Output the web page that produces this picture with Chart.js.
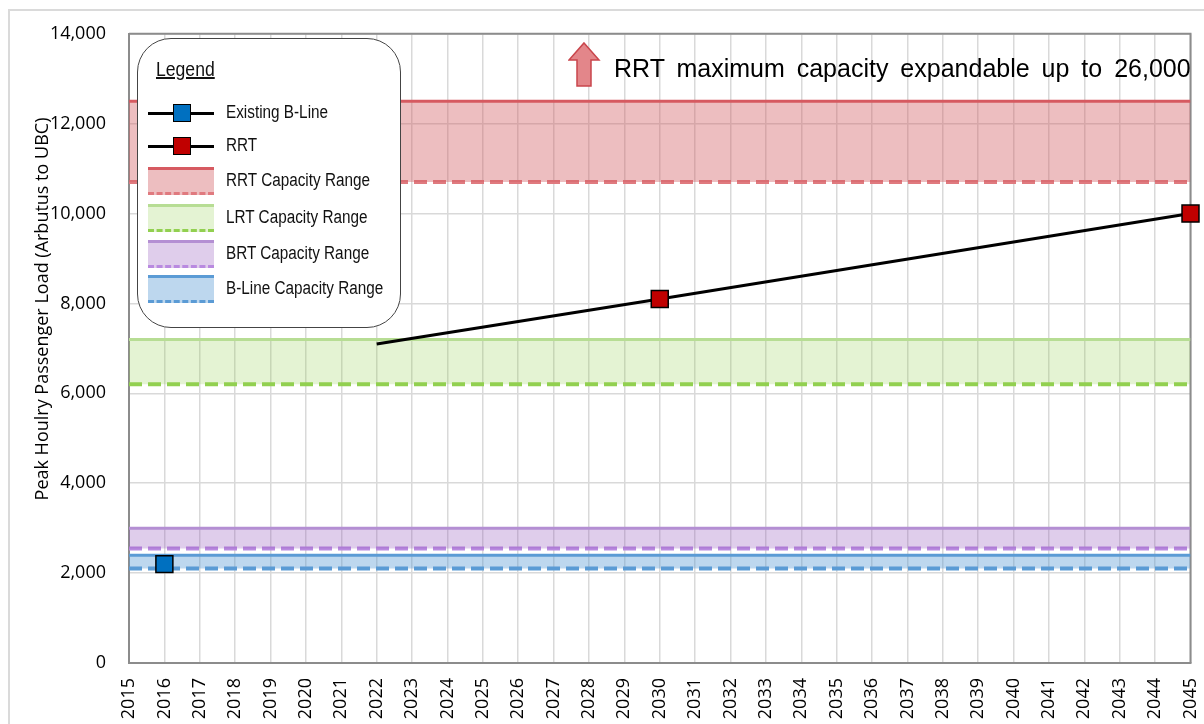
<!DOCTYPE html>
<html>
<head>
<meta charset="utf-8">
<script src="https://cdn.jsdelivr.net/npm/chart.js@4.4.1/dist/chart.umd.min.js"></script>
<style>
  body { margin: 0; background: #fff; }
  #wrap { position: relative; width: 1204px; height: 724px; overflow: hidden; }
  #frame { position: absolute; left: 8px; top: 9px; width: 1300px; height: 800px; border-left: 2px solid #dadada; border-top: 2px solid #dadada; }
  #legend { position: absolute; left: 137px; top: 38px; width: 262px; height: 288px; border: 1px solid #444; border-radius: 34px; background: #fff;
    font-family: 'Liberation Sans', Arial, sans-serif; color: #111; }
  #legend .ttl { position: absolute; left: 18px; top: 19px; font-size: 20px; text-decoration: underline; transform: scaleX(0.88); transform-origin: left center; }
  #legend .row { position: absolute; left: 10px; height: 26px; width: 250px; }
  #legend .sym { position: absolute; left: 0; top: 0; width: 66px; height: 26px; }
  #legend .txt { position: absolute; left: 78px; top: 2px; font-size: 18px; white-space: nowrap; transform: scaleX(0.85); transform-origin: left center; }
  #ytitle { position: absolute; left: 41px; top: 309px; transform: translate(-50%, -50%) rotate(-90deg); font-family: 'Open Sans', sans-serif; font-size: 18px; white-space: nowrap; color: #000; }
  #note { position: absolute; left: 614px; top: 54px; font-family: 'Liberation Sans', Arial, sans-serif; font-size: 25px; word-spacing: 5px; color: #000; white-space: nowrap; }
  #arrow { position: absolute; left: 568px; top: 41px; }
</style>
</head>
<body>
<div id="wrap">
  <div id="frame"></div>
  <canvas id="chart" width="1204" height="724"></canvas>
  <div id="ytitle">Peak Houlry Passenger Load (Arbutus to UBC)</div>
  <div id="legend"><div class="ttl">Legend</div></div>
  <svg id="arrow" width="34" height="48"><polygon points="16,2 31,19 23,19 23,45 9,45 9,19 1,19" fill="#e3868a" stroke="#c9464c" stroke-width="1.5"/></svg>
  <div id="note">RRT maximum capacity expandable up to 26,000</div>
</div>
<script>
const xMin = 2015;
const xMax = 2045;
const yMax = 14000;

const bandNames = ['RRT Capacity Range', 'LRT Capacity Range', 'BRT Capacity Range', 'B-Line Capacity Range'];
const bandHigh = [12500, 7200, 3000, 2400];
const bandLow = [10700, 6200, 2550, 2100];
const bandFill = ['rgba(210,92,97,0.4)', 'rgba(146,208,80,0.25)', 'rgba(150,90,190,0.3)', 'rgba(91,155,213,0.4)'];
const bandTop = ['#d65a61', '#b7dd94', '#b48fd3', '#5b9bd5'];
const bandDash = ['#e07a7f', '#92d050', '#b98ae0', '#5b9bd5'];

const blineYears = [2016];
const blineLoad = [2200];
const rrtYears = [2022, 2030, 2045];
const rrtLoad = [7100, 8100, 10000];
const rrtMarker = [0, 12, 12];

const seriesNames = ['Existing B-Line', 'RRT'];
const seriesColor = ['#0070c0', '#c00000'];

const datasets = [
  {
    label: seriesNames[1],
    data: rrtYears.map((x, i) => ({ x, y: rrtLoad[i] })),
    borderColor: '#000', borderWidth: 3,
    pointStyle: 'rect', pointRadius: rrtMarker,
    pointBackgroundColor: seriesColor[1], pointBorderColor: '#000', pointBorderWidth: 1.5,
    fill: false, clip: false
  },
  {
    label: seriesNames[0],
    data: blineYears.map((x, i) => ({ x, y: blineLoad[i] })),
    borderColor: '#000', borderWidth: 3, showLine: false,
    pointStyle: 'rect', pointRadius: 12,
    pointBackgroundColor: seriesColor[0], pointBorderColor: '#000', pointBorderWidth: 1.5,
    fill: false, clip: false
  }
];

bandNames.forEach((name, i) => {
  datasets.push({
    label: name,
    data: [{ x: xMin, y: bandHigh[i] }, { x: xMax, y: bandHigh[i] }],
    borderColor: bandTop[i], borderWidth: 3, pointRadius: 0,
    backgroundColor: bandFill[i], fill: '+1'
  });
  datasets.push({
    label: name + ' low',
    data: [{ x: xMin, y: bandLow[i] }, { x: xMax, y: bandLow[i] }],
    borderColor: bandDash[i], borderWidth: 4, borderDash: [13, 6], pointRadius: 0,
    fill: false
  });
});

// top and right edges of the plot box
const boxPlugin = {
  id: 'box',
  beforeDatasetsDraw(chart) {
    const { ctx, chartArea: a } = chart;
    ctx.save();
    ctx.strokeStyle = '#8c8c8c';
    ctx.lineWidth = 2;
    ctx.beginPath();
    ctx.moveTo(a.left, a.top);
    ctx.lineTo(a.right, a.top);
    ctx.lineTo(a.right, a.bottom);
    ctx.stroke();
    ctx.restore();
  }
};

Chart.defaults.font.family = "'Open Sans', sans-serif";
Chart.defaults.color = '#000';

new Chart(document.getElementById('chart'), {
  type: 'line',
  data: { datasets },
  plugins: [boxPlugin],
  options: {
    responsive: false,
    animation: false,
    layout: { padding: { top: 32, right: 5, left: 0, bottom: 0 } },
    plugins: { legend: { display: false }, tooltip: { enabled: false } },
    scales: {
      x: {
        type: 'linear', min: xMin, max: xMax,
        grid: { color: '#d9d9d9', lineWidth: 1.5, drawTicks: false },
        border: { color: '#8c8c8c', width: 2 },
        ticks: {
          stepSize: 1, autoSkip: false, minRotation: 90, maxRotation: 90, padding: 15,
          font: { size: 18 }, callback: v => String(v)
        },
        afterFit: s => { s.height = 61; s.paddingLeft = 0; s.paddingRight = 0; }
      },
      y: {
        min: 0, max: yMax,
        grid: { color: '#d9d9d9', lineWidth: 1.5, drawTicks: false },
        border: { color: '#8c8c8c', width: 2 },
        ticks: { stepSize: 2000, padding: 23, font: { size: 18 }, callback: v => v.toLocaleString('en-US') },
        afterFit: s => { s.width = 129; }
      }
    }
  }
});

// legend box
const legend = document.getElementById('legend');
const rowTops = [61, 94, 129, 166, 202, 237];
const legendItems = [
  { kind: 'series', i: 0 }, { kind: 'series', i: 1 },
  { kind: 'band', i: 0 }, { kind: 'band', i: 1 }, { kind: 'band', i: 2 }, { kind: 'band', i: 3 }
];
legendItems.forEach((item, r) => {
  const row = document.createElement('div');
  row.className = 'row';
  row.style.top = rowTops[r] + 'px';
  let sym;
  if (item.kind === 'series') {
    sym = `<div class="sym"><div style="position:absolute;left:0;top:12px;width:66px;height:3px;background:#000"></div>
      <div style="position:absolute;left:25px;top:4px;width:16px;height:16px;background:${seriesColor[item.i]};border:1.5px solid #000"></div></div>`;
  } else {
    const i = item.i;
    sym = `<div class="sym" style="top:-1px;height:22px;background:${bandFill[i]};border-top:3px solid ${bandTop[i]};border-bottom:3px dashed ${bandDash[i]}"></div>`;
  }
  const label = item.kind === 'series' ? seriesNames[item.i] : bandNames[item.i];
  row.innerHTML = sym + `<div class="txt">${label}</div>`;
  legend.appendChild(row);
});
</script>
</body>
</html>
